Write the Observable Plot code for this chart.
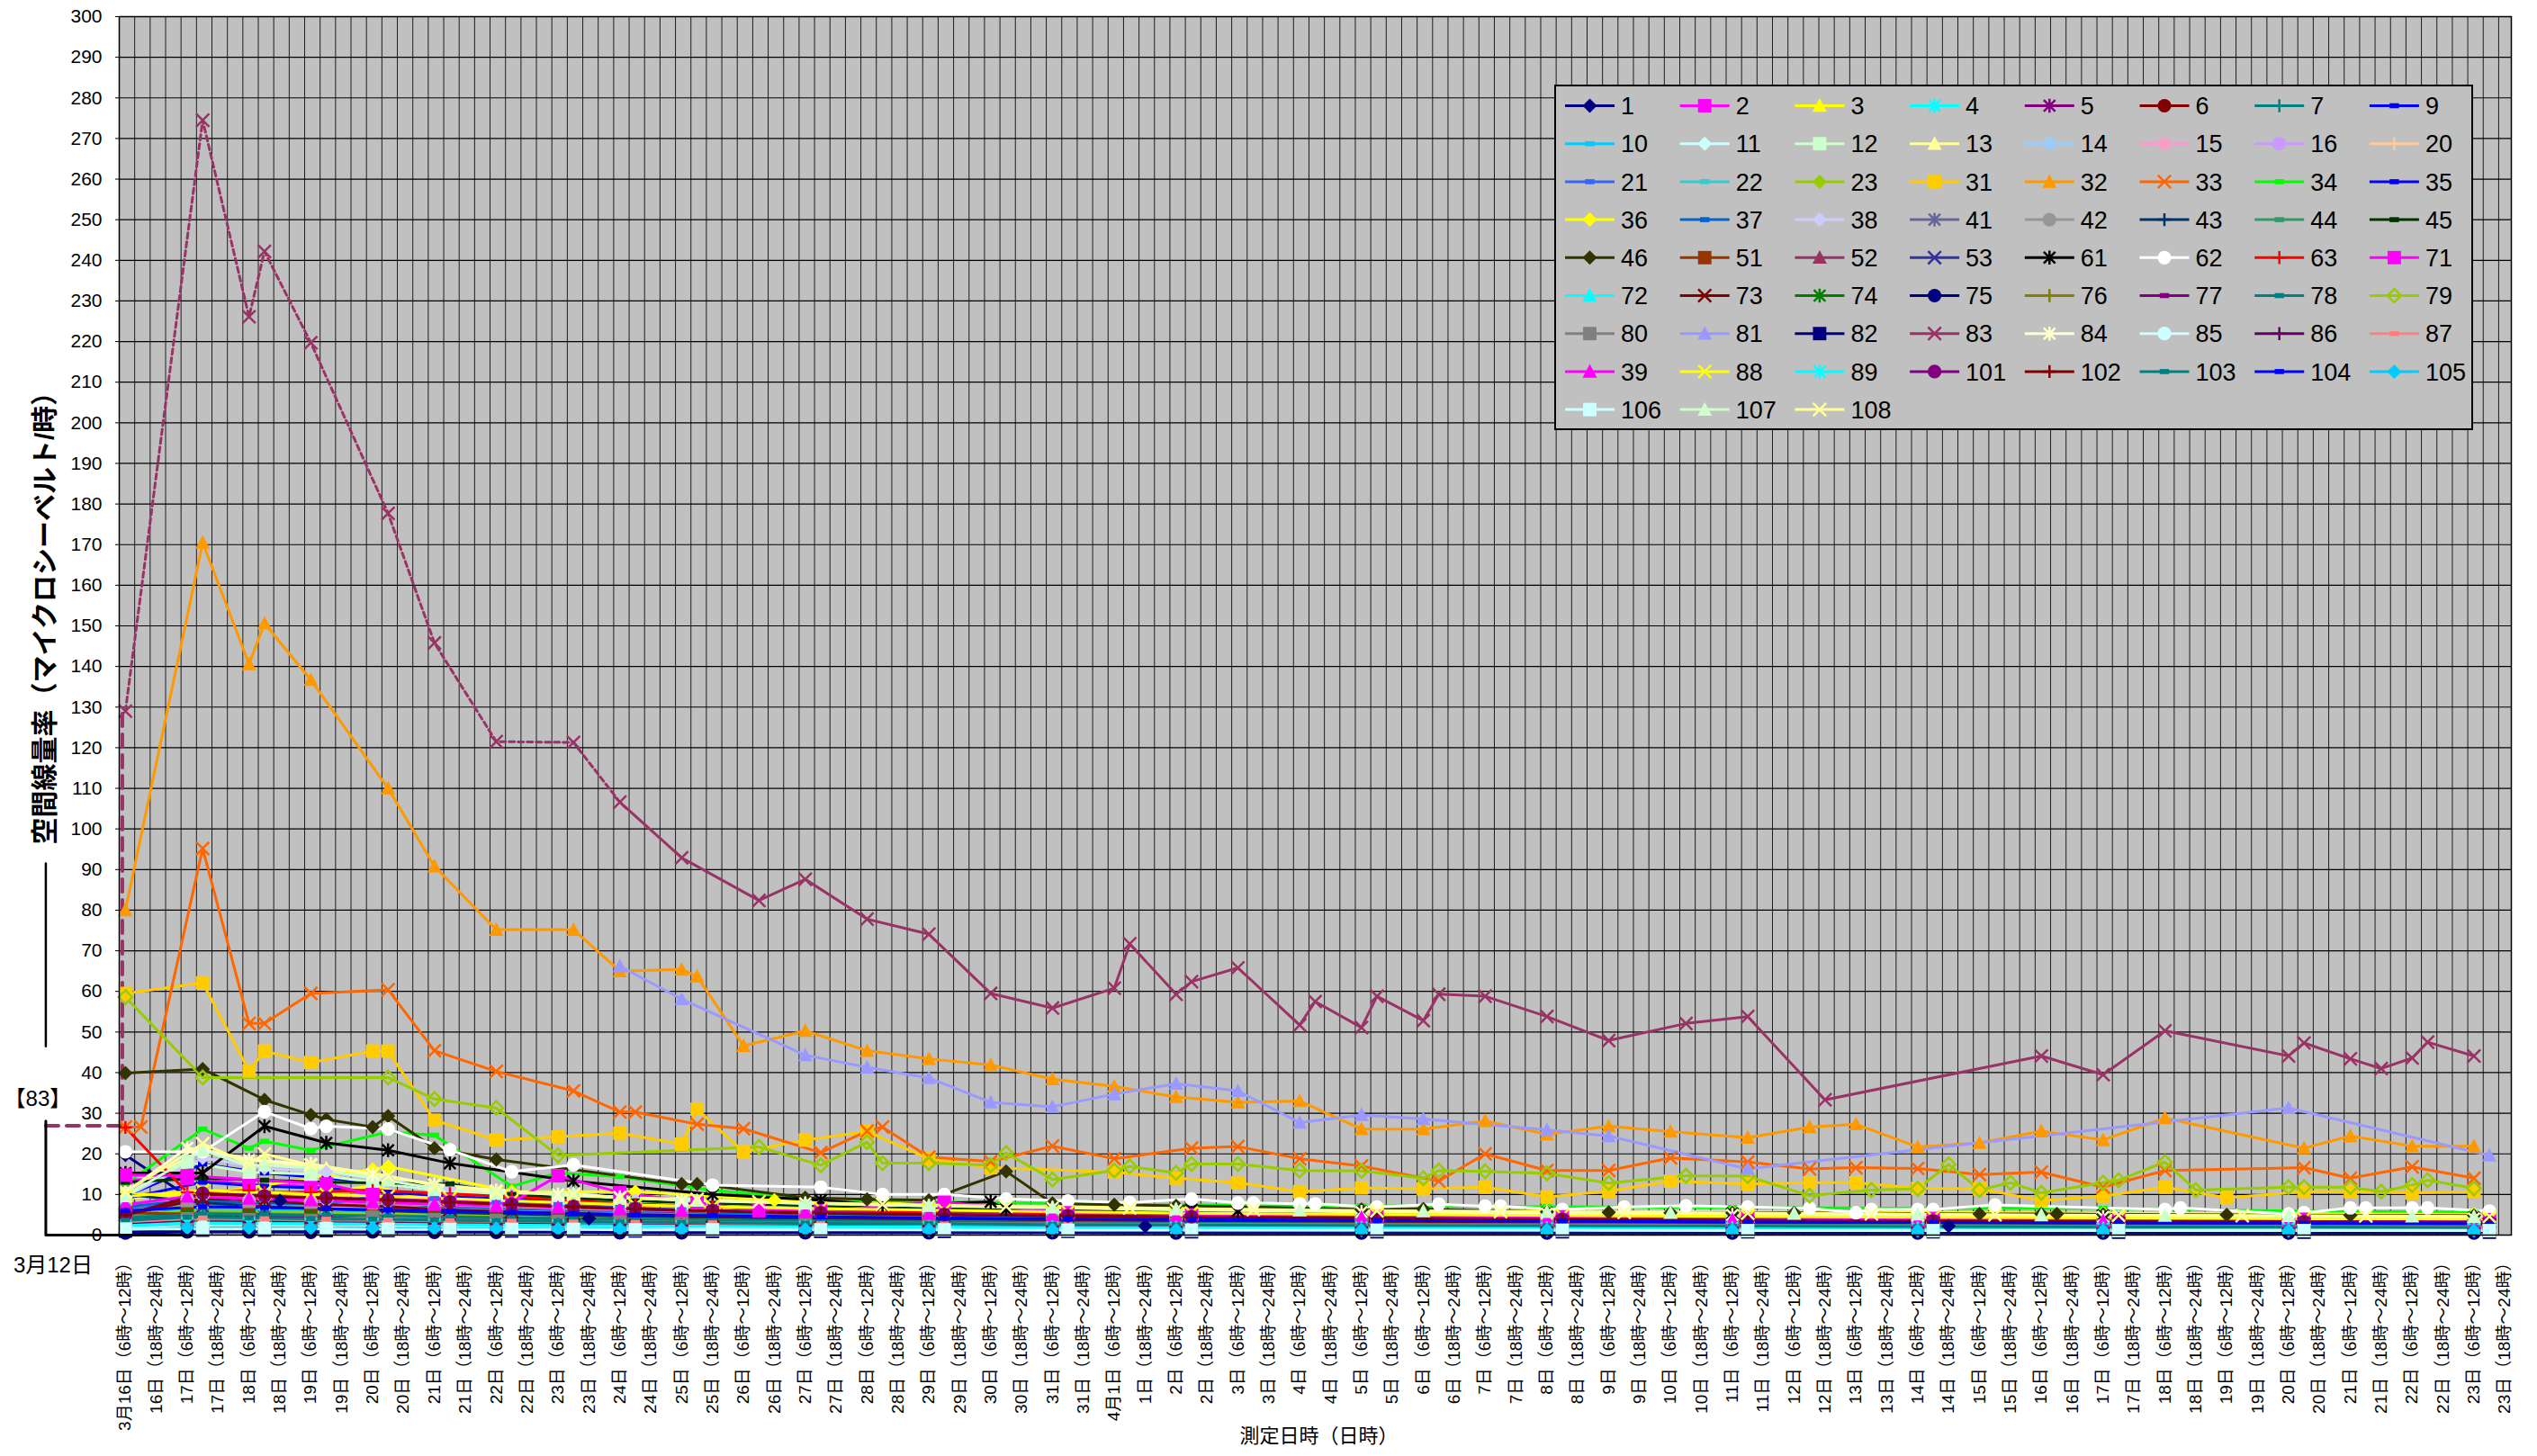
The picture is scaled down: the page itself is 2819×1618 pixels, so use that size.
<!DOCTYPE html>
<html><head><meta charset="utf-8">
<script src="https://cdn.jsdelivr.net/npm/d3@7"></script>
<script src="https://cdn.jsdelivr.net/npm/@observablehq/plot@0.6"></script>
<style>
html,body{margin:0;padding:0;background:#fff;}
#wrap{position:relative;width:2819px;height:1618px;font-family:"Liberation Sans","Noto Sans CJK JP",sans-serif;}
#legend{position:absolute;left:1727px;top:94px;}
</style></head>
<body><div id="wrap"><div id="chart"></div><svg id="legend"></svg></div>
<script>
// ---------- tick labels ----------
const slotAM = "（6時～12時）", slotPM = "（18時～24時）";
const amDays = ["3月16日","17日","18日","19日","20日","21日","22日","23日","24日","25日","26日","27日","28日","29日","30日","31日","4月1日","2日","3日","4日","5日","6日","7日","8日","9日","10日","11日","12日","13日","14日","15日","16日","17日","18日","19日","20日","21日","22日","23日"];
const pmDays = ["16日","17日","18日","19日","20日","21日","22日","23日","24日","25日","26日","27日","28日","29日","30日","31日","1日","2日","3日","4日","5日","6日","7日","8日","9日","10日","11日","12日","13日","14日","15日","16日","17日","18日","19日","20日","21日","22日","23日"];
const yTicks = [0,10,20,30,40,50,60,70,80,90,100,110,120,130,140,150,160,170,180,190,200,210,220,230,240,250,260,270,280,290,300];
const yTitle = "空間線量率（マイクロシーベルト/時）";
const xTitle = "測定日時（日時）";

// ---------- series (x = half-day slot index, 0 = 3月16日 6-12時) ----------
const tA = [0,2.5,4.5,6.5,8.5,10.5,12.5,14.5,16.5,19,22.5,26.5,30.5,34.5,40.5,46.5,52.5,58.5,64.5,70.5,76.5];
const tB = [0,2,4,6,8,10,12,14,16,18,22,26,30,34,40,46,52,58,64,70,76];

const t83 = [0,2.5,4,4.5,6,8.5,10,12,14.5,16,18,20.5,22,24,26,28,30,32,32.5,34,34.5,36,38,38.5,40,40.5,42,42.5,44,46,48,50.5,52.5,55,62,64,66,70,70.5,72,73,74,74.5,76];
const v83 = [129,274.5,226.1,242.2,219.7,177.7,145.8,121.5,121.3,106.6,92.9,82.4,87.6,77.8,74.1,59.5,55.9,60.8,71.7,59.3,62.4,65.8,51.7,57.5,51.1,58.8,52.8,59.3,58.8,53.8,47.9,52.1,53.8,33.3,44.1,39.5,50.3,44.1,47.3,43.4,41.0,43.6,47.5,44.1];
const v83_0312 = 26.9;   // 3月12日 value of station 83
const u0312 = -2.576;    // position of the 3月12日 reference

const t32 = [0,2.5,4,4.5,6,8.5,10,12,14.5,16,18,18.5,20,22,24,26,28,30,32,34,36,38,40,42,44,46,48,50,52.5,54.5,56,58,60,62,64,66,70.5,72,74,76];
const v32 = [80,170.5,140.6,150.6,136.7,110,90.8,75.2,75.2,65.0,65.4,63.7,46.6,50.3,45.4,43.4,41.9,38.4,36.6,34.0,32.7,33.0,26.1,26.1,28.1,24.8,26.8,25.5,24.0,26.6,27.3,21.7,22.7,25.6,23.4,28.8,21.4,24.4,21.9,21.9];
const t33 = [0,0.5,2.5,4,4.5,6,8.5,10,12,14.5,16,16.5,18.5,20,22.5,24,24.5,26,28,30,32,34.5,36,38,40,42.5,44,46,48,50,52.5,54.5,56,58,60,62,64,66,70.5,72,74,76];
const v33 = [26.6,26.6,95.2,52.1,52.1,59.5,60.4,45.4,40.3,35.5,30.3,30.3,27.3,26.2,20.3,25.6,26.6,19.2,18.1,21.9,18.8,21.4,21.8,18.8,17.0,13.3,20.0,15.9,15.9,19.0,18.0,16.3,16.6,16.4,14.9,15.5,11.8,15.9,16.6,14.0,16.8,14.0];
const t31 = [0,2.5,4,4.5,6,8,8.5,10,12,14,16,18,18.5,20,22,24,26,28,32,34,36,38,40,42,44,46,48,50,52.5,54.5,56,58,60,62,64,66,68,70.5,72,74,76];
const v31 = [59.5,62.1,40.4,45.3,42.5,45.3,45.3,28.3,23.4,24.2,25.1,22.4,31.0,20.5,23.4,25.5,18.8,16.6,15.5,14.0,12.9,10.7,11.6,11.4,11.8,9.4,10.8,13.3,12.6,12.9,12.9,11.5,11.4,8.5,9.6,11.8,9.2,10.7,10.7,10.4,10.7];
const t79 = [0,2.5,8.5,10,12,14,20.5,22.5,24,24.5,26,28,28.5,30,32,32.5,34,34.5,36,38,40,42,42.5,44,46,48,50.5,52.5,54.5,56.5,58,59,60,61,62,64,64.5,66,67,70,70.5,72,73,74,74.5,76];
const v79 = [58.6,38.8,38.8,33.5,31.3,19.6,21.7,17.2,22.9,17.7,17.7,17.2,20.2,13.7,15.9,16.9,15.3,17.5,17.5,15.9,15.8,14.0,15.9,15.7,15.2,12.8,14.6,14.5,9.7,11.1,11.4,17.4,11.1,12.9,10.4,12.9,13.5,18.0,11.1,11.8,11.8,11.8,10.7,12.3,13.5,11.5];
const t81 = [16,18,22,24,26,28,30,32,34,36,38,40,42,46,48,52.5,70,76.5];
const v81 = [66.2,58.1,44.3,41.3,38.7,32.7,31.6,34.7,37.3,35.5,27.7,29.6,28.6,25.9,24.4,16.3,31.3,19.6];
const t46 = [0,2.5,4.5,6,6.5,8,8.5,10,12,18,18.5,22,24,26,28.5,30,32,34,36,40,42,46,48,50,52,54,60,62,62.5,64,68,72,76];
const v46 = [39.9,40.9,33.3,29.6,28.5,26.6,29.3,21.4,18.6,12.6,12.6,9.2,8.8,8.6,15.7,7.8,7.5,7.2,7.0,6.3,6.4,5.7,5.6,5.5,5.5,5.5,5.2,5.2,5.2,5.1,5.0,4.9,4.8];
const t62 = [0,2.5,4.5,6,6.5,8.5,10.5,12.5,14.5,19,22.5,24.5,26.5,28.5,30.5,32.5,34.5,36,36.5,38,38.5,40.5,42.5,44,44.5,46.5,48.5,50.5,52.5,54.5,56,56.5,58,58.5,60.5,66,66.5,70,70.5,72,72.5,74,74.5,76.5];
const v62 = [20.5,20.5,30.4,26.2,26.8,26.1,21.0,15.6,17.3,12.3,11.8,10.0,10.0,8.9,8.4,8.0,8.9,7.9,7.9,7.7,7.7,6.9,7.6,7.1,7.1,6.3,6.9,7.2,6.9,6.6,5.5,6.3,6.3,6.3,7.4,6.3,6.7,5.2,5.5,6.7,6.7,6.7,6.7,5.9];
const t61 = [0,2.5,4.5,6.5,8.5,10.5,14.5,19,22.5,24.5,28,28.5,30.5,34.5,36,40,46,52,58,64,70,76];
const v61 = [15.3,15.3,26.8,22.7,20.9,17.7,13.3,10.0,8.6,7.4,8.2,6.4,6.4,6.3,6.0,5.8,5.5,5.3,5.0,4.8,4.5,4.3];
const t34 = [0,2.5,4,4.5,6,8.5,10,12.5,14,16,19,22,26,30,34,40,46,52,58,64,70,76];
const v34 = [12.6,26.1,21.4,23.1,20.9,25.4,24.6,12.0,15.3,14.4,11.0,9.0,8.2,7.8,7.4,7.2,7.0,6.8,6.6,6.6,5.9,5.6];
const t36 = [0,2.5,8,8.5,12.5,16.5,21,26,30,34,40,46,52,58,64,70,76];
const v36 = [10.0,10.0,16.2,16.9,10.7,10.7,8.6,7.5,7.0,6.6,6.2,5.9,5.7,5.6,5.4,5.3,5.1];
const v9 = [9.6,17.5,15.3,14.0,12.6,10.5,10.0,9.5,9.0,8.0,7.0,6.5,6.0,5.6,5.2,4.9,4.6,4.4,4.2,4.0,3.9];
const t107 = [0,2.5,4,4.5,6,8.5,10,12,14.5,16,18.5,22,26,30,34,38,42,46,50,54,58,62,66,70,74,76];
const v107 = [9.6,20.9,17.0,17.2,16.5,13.4,11.5,10.3,10.3,9.2,8.5,7.8,7.2,6.8,6.4,6.1,5.9,5.7,5.5,5.3,5.1,4.9,4.8,4.7,4.6,4.5];
const t108 = [0,2.5,4,4.5,6,8.5,10,12,14.5,16,18.5,20.5,24.5,28.5,32.5,36.5,40.5,44.5,48.5,52.5,56.5,60.5,64.5,68.5,72.5,76.5];
const v108 = [10.7,22.5,17.5,20.0,17.2,14.6,12.2,10.7,10.0,9.2,8.8,8.2,7.6,7.1,6.7,6.3,6.0,5.8,5.6,5.4,5.2,5.0,4.9,4.8,4.7,4.6];
const t71 = [0,2,6.5,8,10.5,12.5,14,16,18.5,20.5,22.5,26.5,30.5,34.5,40.5,46.5,52.5,58.5,64.5,70.5,76.5];
const v71 = [14.8,14.6,12.6,10.0,8.5,8.0,14.6,10.5,8.0,6.0,6.0,8.1,5.5,5.0,4.7,4.5,4.3,4.1,4.0,3.9,3.8];
const t63 = [0,2,4,4.5,6,6.5,8,10.5,12.5,14.5,16.5,19,22.5,26.5,30.5,34.5,40.5,46.5,52.5,58.5,64.5,70.5,76.5];
const v63 = [26.5,10.5,11.0,10.5,10.6,10.7,11.0,10.2,9.4,8.5,7.5,7.0,6.0,5.5,5.0,4.6,4.2,3.9,3.7,3.5,3.4,3.3,3.2];
const t1 = [0,2,5,10,15,22,26,30,33,40,46,52,59,64,70,76];
const v1 = [19.7,9.6,8.5,6.0,4.1,3.6,3.3,3.0,2.2,2.5,2.3,2.2,2.2,2.1,2.0,1.9];

const v2  = [13.5,14.0,12.5,12.0,10.0,8.5,7.5,7.0,6.5,6.0,5.5,5.0,4.6,4.2,3.8,3.5,3.3,3.1,2.9,2.8,2.6];
const v3  = [9.0,10.0,9.5,9.8,12.2,8.5,7.2,6.6,6.0,5.6,5.0,4.6,4.2,3.9,3.5,3.2,3.0,2.8,2.6,2.5,2.4];
const v4  = [3.0,4.5,4.2,4.0,3.8,3.5,3.3,3.0,2.9,2.7,2.5,2.3,2.2,2.1,2.0,1.9,1.8,1.7,1.7,1.6,1.6];
const v5  = [4.5,7.0,6.5,6.0,5.8,5.2,4.9,4.6,4.3,4.0,3.7,3.4,3.2,3.0,2.8,2.6,2.5,2.4,2.3,2.2,2.1];
const v6  = [5.5,8.0,7.8,7.4,7.0,6.4,6.0,5.6,5.2,4.9,4.5,4.2,3.9,3.7,3.4,3.2,3.0,2.9,2.7,2.6,2.5];
const v7  = [8.0,6.5,6.0,5.6,5.2,4.9,4.6,4.3,4.0,3.8,3.5,3.3,3.1,2.9,2.7,2.5,2.4,2.3,2.2,2.1,2.0];
const v10 = [6.0,6.5,6.2,5.9,5.5,5.1,4.8,4.5,4.2,3.9,3.6,3.4,3.2,3.0,2.8,2.6,2.5,2.4,2.3,2.2,2.1];
const v11 = [2.5,3.5,3.3,3.1,3.0,2.8,2.6,2.5,2.4,2.3,2.1,2.0,1.9,1.8,1.7,1.6,1.6,1.5,1.5,1.4,1.4];
const v12 = [10.0,18.0,15.5,15.0,13.0,11.0,9.8,9.0,8.4,7.8,7.0,6.5,6.0,5.6,5.2,4.8,4.5,4.3,4.1,3.9,3.7];
const v13 = [11.0,21.0,18.0,16.5,14.0,12.0,10.5,9.6,9.0,8.4,7.6,7.0,6.5,6.0,5.5,5.1,4.8,4.5,4.3,4.1,3.9];
const v14 = [6.5,8.0,7.5,7.0,6.6,6.0,5.6,5.2,4.9,4.6,4.2,3.9,3.6,3.4,3.2,3.0,2.8,2.7,2.6,2.5,2.4];
const v15 = [3.5,4.8,4.6,4.4,4.2,4.0,3.8,3.6,3.5,3.3,3.1,2.9,2.8,2.6,2.5,2.4,2.3,2.2,2.1,2.0,2.0];
const v16 = [7.0,9.0,8.5,8.0,7.5,7.0,6.5,6.1,5.8,5.4,5.0,4.7,4.4,4.1,3.8,3.6,3.4,3.2,3.1,3.0,2.9];
const v20 = [2.0,2.8,2.7,2.6,2.5,2.4,2.3,2.2,2.1,2.0,1.9,1.8,1.8,1.7,1.6,1.6,1.5,1.5,1.4,1.4,1.4];
const v21 = [6.5,7.5,7.2,7.0,9.5,9.0,8.0,7.5,6.8,6.2,5.5,5.0,4.6,4.3,4.0,3.7,3.5,3.3,3.2,3.1,3.0];
const v22 = [4.0,5.0,4.8,4.6,4.4,4.2,4.0,3.8,3.6,3.4,3.2,3.0,2.9,2.7,2.6,2.5,2.4,2.3,2.2,2.1,2.0];
const v23 = [5.0,6.0,5.8,5.5,5.3,5.0,4.7,4.4,4.2,4.0,3.7,3.5,3.3,3.1,2.9,2.8,2.6,2.5,2.4,2.3,2.2];
const v35 = [9.0,13.0,12.0,11.5,10.5,9.5,8.8,8.2,7.6,7.0,6.4,6.0,5.6,5.3,5.0,4.7,4.5,4.3,4.1,3.9,3.8];
const v37 = [7.0,8.5,8.0,7.6,7.2,6.8,6.4,6.0,5.6,5.3,5.0,4.7,4.4,4.1,3.9,3.7,3.5,3.3,3.2,3.0,2.9];
const v38 = [9.5,19.0,16.5,15.5,13.5,11.5,10.0,9.2,8.6,8.0,7.3,6.8,6.3,5.8,5.4,5.0,4.7,4.4,4.2,4.0,3.8];
const v41 = [2.5,3.2,3.1,3.0,2.9,2.8,2.7,2.6,2.5,2.4,2.3,2.2,2.1,2.0,1.9,1.8,1.8,1.7,1.7,1.6,1.6];
const v42 = [6.0,7.5,7.2,7.0,7.8,6.5,6.0,5.6,5.3,5.0,4.6,4.3,4.0,3.8,3.6,3.4,3.2,3.1,3.0,2.9,2.8];
const v43 = [10.0,8.0,7.0,6.5,6.0,5.5,5.2,4.9,4.6,4.3,4.0,3.7,3.5,3.3,3.1,2.9,2.8,2.7,2.6,2.5,2.4];
const v44 = [4.5,5.5,5.3,5.0,4.8,4.6,4.4,4.2,4.0,3.8,3.5,3.3,3.1,2.9,2.7,2.6,2.5,2.4,2.3,2.2,2.1];
const v45 = [13.0,14.0,13.5,13.0,12.8,12.6,10.0,9.0,8.4,7.8,7.2,6.6,6.2,5.8,5.4,5.0,4.8,4.6,4.4,4.2,4.0];
const v51 = [5.5,5.2,5.0,4.8,4.6,4.4,4.2,4.0,3.8,3.6,3.4,3.2,3.0,2.9,2.8,2.7,2.6,2.5,2.4,2.3,2.2];
const v52 = [2.2,2.2,2.1,1.9,1.9,1.8,1.8,1.7,1.7,1.6,1.6,1.5,1.5,1.4,1.4,1.3,1.3,1.3,1.2,1.2,1.2];
const v53 = [3.0,3.8,3.6,3.4,3.3,3.1,3.0,2.8,2.7,2.6,2.4,2.3,2.2,2.1,2.0,1.9,1.8,1.8,1.7,1.7,1.6];
const v72 = [1.8,2.5,2.4,2.3,2.2,2.1,2.0,1.9,1.9,1.8,1.7,1.6,1.6,1.5,1.5,1.4,1.4,1.3,1.3,1.3,1.2];
const v73 = [5.0,9.0,8.5,7.5,7.0,6.2,5.7,5.3,5.0,4.7,4.4,4.1,3.8,3.6,3.4,3.2,3.0,2.9,2.8,2.7,2.6];
const v74 = [4.0,5.0,4.8,4.6,4.4,4.2,4.0,3.8,3.6,3.4,3.2,3.0,2.8,2.7,2.6,2.5,2.4,2.3,2.2,2.1,2.0];
const v75 = [0.5,0.8,0.8,0.7,0.8,0.7,0.7,0.7,0.6,0.6,0.6,0.6,0.6,0.5,0.5,0.5,0.5,0.5,0.5,0.5,0.5];
const v76 = [2.8,3.5,3.3,3.2,3.0,2.9,2.8,2.6,2.5,2.4,2.3,2.2,2.1,2.0,1.9,1.8,1.8,1.7,1.7,1.6,1.6];
const v77 = [3.8,4.6,4.4,4.2,4.0,3.8,3.6,3.5,3.3,3.2,3.0,2.8,2.7,2.6,2.4,2.3,2.2,2.1,2.0,2.0,1.9];
const v78 = [4.2,5.2,5.0,4.8,4.6,4.4,4.2,4.0,3.8,3.6,3.4,3.2,3.0,2.9,2.7,2.6,2.5,2.4,2.3,2.2,2.1];
const v80 = [3.2,4.0,3.8,3.6,4.4,3.8,3.6,3.4,3.3,3.2,3.0,2.9,2.8,2.7,2.6,2.5,2.4,2.3,2.2,2.2,2.1];
const v82 = [1.0,1.2,1.2,1.1,1.1,1.1,1.0,1.0,1.0,0.9,0.9,0.9,0.9,0.8,0.8,0.8,0.8,0.8,0.7,0.7,0.7];
const v84 = [10.5,21.5,18.5,17.5,15.0,12.5,11.0,10.0,9.3,8.6,7.8,7.2,6.7,6.2,5.7,5.3,5.0,4.7,4.5,4.3,4.1];
const v85 = [1.6,2.2,2.1,2.0,2.0,1.9,1.8,1.8,1.7,1.7,1.6,1.5,1.5,1.4,1.4,1.3,1.3,1.3,1.2,1.2,1.2];
const v86 = [2.6,3.3,3.2,3.0,2.9,2.8,2.7,2.6,2.5,2.4,2.3,2.2,2.1,2.0,1.9,1.9,1.8,1.8,1.7,1.7,1.6];
const v87 = [3.3,4.2,4.0,3.9,3.7,3.5,3.4,3.2,3.1,3.0,2.8,2.7,2.6,2.5,2.4,2.3,2.2,2.1,2.0,2.0,1.9];
const v39 = [7.5,9.5,9.0,8.6,8.1,7.6,7.2,6.8,6.4,6.0,5.6,5.2,4.9,4.6,4.3,4.0,3.8,3.6,3.5,3.4,3.3];
const v88 = [9.5,11.0,10.5,10.0,9.5,9.0,8.4,7.9,7.4,7.0,6.5,6.1,5.7,5.4,5.1,4.8,4.6,4.4,4.2,4.0,3.9];
const v89 = [2.3,3.0,2.9,2.8,2.7,2.6,2.5,2.4,2.3,2.2,2.1,2.0,1.9,1.8,1.8,1.7,1.7,1.6,1.6,1.6,1.5];
const v101 = [5.0,10.3,9.6,9.2,8.7,8.2,7.6,7.0,6.5,6.0,5.5,5.1,4.8,4.5,4.2,3.9,3.7,3.5,3.4,3.3,3.2];
const v102 = [5.0,10.1,9.5,9.1,8.6,8.1,7.5,6.9,6.4,5.9,5.4,5.0,4.7,4.4,4.1,3.8,3.6,3.4,3.3,3.2,3.1];
const v103 = [3.6,4.4,4.2,4.0,3.9,3.7,3.5,3.4,3.2,3.1,2.9,2.8,2.6,2.5,2.4,2.3,2.2,2.1,2.0,2.0,1.9];
const v104 = [6.0,7.0,6.8,6.5,6.2,5.9,5.6,5.3,5.0,4.8,4.5,4.2,4.0,3.8,3.6,3.4,3.2,3.1,3.0,2.9,2.8];
const v105 = [1.4,1.8,1.8,1.7,1.7,1.6,1.6,1.5,1.5,1.4,1.4,1.3,1.3,1.3,1.2,1.2,1.2,1.1,1.1,1.1,1.1];
const v106 = [1.5,1.5,1.5,1.5,1.4,1.4,1.4,1.4,1.3,1.3,1.3,1.3,1.2,1.2,1.2,1.2,1.1,1.1,1.1,1.1,1.1];

// legend order = drawing order
const seriesIds = ["1","2","3","4","5","6","7","9","10","11","12","13","14","15","16","20","21","22","23","31","32","33","34","35","36","37","38","41","42","43","44","45","46","51","52","53","61","62","63","71","72","73","74","75","76","77","78","79","80","81","82","83","84","85","86","87","39","88","89","101","102","103","104","105","106","107","108"];
const seriesColors = ["#000080","#FF00FF","#FFFF00","#00FFFF","#800080","#800000","#008080","#0000FF","#00CCFF","#CCFFFF","#CCFFCC","#FFFF99","#99CCFF","#FF99CC","#CC99FF","#FFCC99","#3366FF","#33CCCC","#99CC00","#FFCC00","#FF9900","#FF6600","#00FF00","#0000FF","#FFFF00","#0066CC","#CCCCFF","#666699","#969696","#003366","#339966","#003300","#333300","#993300","#993366","#333399","#000000","#FFFFFF","#FF0000","#FF00FF","#00FFFF","#800000","#008000","#000080","#808000","#800080","#008080","#99CC00","#808080","#9999FF","#000080","#993366","#FFFFCC","#CCFFFF","#660066","#FF8080","#FF00FF","#FFFF00","#00FFFF","#800080","#800000","#008080","#0000FF","#00CCFF","#CCFFFF","#CCFFCC","#FFFF99"];
const seriesMarkers = ["m_dia","m_sq","m_tri","m_ast","m_ast","m_cir","m_plus","m_dash","m_dash","m_dia","m_sq","m_tri","m_ast","m_ast","m_cir","m_plus","m_dash","m_dash","m_dia","m_sq","m_tri","m_x","m_dash","m_dash","m_dia","m_dash","m_dia","m_ast","m_cir","m_plus","m_dash","m_dash","m_dia","m_sq","m_tri","m_x","m_ast","m_cir","m_plus","m_sq","m_tri","m_x","m_ast","m_cir","m_plus","m_dash","m_dash","m_odia","m_sq","m_tri","m_sq","m_x","m_ast","m_cir","m_plus","m_dash","m_tri","m_x","m_ast","m_cir","m_plus","m_dash","m_dash","m_dia","m_sq","m_tri","m_x"];
const seriesT = {"1":t1,"2":tB,"3":tB,"4":tA,"5":tA,"6":tB,"7":tA,"9":tA,"10":tB,"11":tA,"12":tB,"13":tA,"14":tA,"15":tB,"16":tB,"20":tA,"21":tB,"22":tA,"23":tB,"31":t31,"32":t32,"33":t33,"34":t34,"35":tA,"36":t36,"37":tB,"38":tA,"41":tB,"42":tB,"43":tA,"44":tB,"45":tA,"46":t46,"51":tB,"52":tA,"53":tB,"61":t61,"62":t62,"63":t63,"71":t71,"72":tA,"73":tA,"74":tB,"75":tB,"76":tA,"77":tB,"78":tA,"79":t79,"80":tB,"81":t81,"82":tA,"83":t83,"84":tB,"85":tA,"86":tB,"87":tA,"39":tB,"88":tA,"89":tB,"101":tA,"102":tA,"103":tB,"104":tA,"105":tB,"106":tA,"107":t107,"108":t108};
const seriesV = {"1":v1,"2":v2,"3":v3,"4":v4,"5":v5,"6":v6,"7":v7,"9":v9,"10":v10,"11":v11,"12":v12,"13":v13,"14":v14,"15":v15,"16":v16,"20":v20,"21":v21,"22":v22,"23":v23,"31":v31,"32":v32,"33":v33,"34":v34,"35":v35,"36":v36,"37":v37,"38":v38,"41":v41,"42":v42,"43":v43,"44":v44,"45":v45,"46":v46,"51":v51,"52":v52,"53":v53,"61":v61,"62":v62,"63":v63,"71":v71,"72":v72,"73":v73,"74":v74,"75":v75,"76":v76,"77":v77,"78":v78,"79":v79,"80":v80,"81":v81,"82":v82,"83":v83,"84":v84,"85":v85,"86":v86,"87":v87,"39":v39,"88":v88,"89":v89,"101":v101,"102":v102,"103":v103,"104":v104,"105":v105,"106":v106,"107":v107,"108":v108};

// ---------- marker shapes (Excel style) ----------
const R = s => Math.sqrt(s / Math.PI);
const shapes = {
  m_cir: {draw(c, s){const r = R(s)*0.95; c.moveTo(r,0); c.arc(0,0,r,0,2*Math.PI);}},
  m_sq: {draw(c, s){const r = R(s)*0.93; c.rect(-r,-r,2*r,2*r);}},
  m_dia: {draw(c, s){const r = R(s)*1.0; c.moveTo(0,-r); c.lineTo(r,0); c.lineTo(0,r); c.lineTo(-r,0); c.closePath();}},
  m_odia: {draw(c, s){const r = R(s)*0.95; c.moveTo(0,-r); c.lineTo(r,0); c.lineTo(0,r); c.lineTo(-r,0); c.closePath();}},
  m_tri: {draw(c, s){const r = R(s); c.moveTo(0,-1.05*r); c.lineTo(r,0.85*r); c.lineTo(-r,0.85*r); c.closePath();}},
  m_x: {draw(c, s){const r = R(s)*0.9; c.moveTo(-r,-r); c.lineTo(r,r); c.moveTo(r,-r); c.lineTo(-r,r);}},
  m_ast: {draw(c, s){const r = R(s)*0.8; c.moveTo(-r,-r); c.lineTo(r,r); c.moveTo(r,-r); c.lineTo(-r,r); c.moveTo(0,-1.2*r); c.lineTo(0,1.2*r);}},
  m_plus: {draw(c, s){const r = R(s)*0.9; c.moveTo(0,-r); c.lineTo(0,r); c.moveTo(-r,0); c.lineTo(r,0);}},
  m_dash: {draw(c, s){const r = R(s); c.rect(-0.65*r,-0.35*r,1.3*r,0.7*r);}}
};
const symNames = Object.keys(shapes);
const strokeOnly = new Set(["m_x","m_ast","m_plus","m_odia"]);

// ---------- rows ----------
const rows = seriesIds.flatMap((id, i) => seriesT[id].map((t, j) => ({
  id, t, v: seriesV[id][j], color: seriesColors[i], mk: seriesMarkers[i],
  fill: strokeOnly.has(seriesMarkers[i]) ? "none" : seriesColors[i],
  stroke: strokeOnly.has(seriesMarkers[i]) ? seriesColors[i] : "none"
})));
const rows83 = rows.filter(d => d.id === "83");
const dotted83 = rows83.filter(d => d.t <= 16);
const solid83 = rows83.filter(d => d.t >= 16);
const pre83 = [{t: u0312, v: v83_0312}, {t: -0.1, v: v83_0312}, {t: -0.1, v: v83[0]}];
const breakUpper = [{t: u0312, v: 91.5}, {t: u0312, v: 46.5}];
const breakLower = [{t: u0312, v: 28.1}, {t: u0312, v: 0}, {t: 2.14, v: 0}];
const gridX = d3.range(-0.2, 77.21, 0.5);

const chart = Plot.plot({
  width: 2819, height: 1618,
  marginLeft: 132, marginRight: 29, marginTop: 18, marginBottom: 246,
  x: {domain: [-0.2, 77.21]},
  y: {domain: [0, 300]},
  color: {type: "identity"},
  symbol: {domain: symNames, range: symNames.map(n => shapes[n])},
  style: {background: "#fff", fontFamily: '"Liberation Sans","Noto Sans CJK JP",sans-serif', fontSize: "20px", color: "#000", overflow: "visible"},
  marks: [
    Plot.frame({fill: "#C0C0C0", stroke: null}),
    Plot.ruleX(gridX, {stroke: "#000", strokeWidth: 1, strokeOpacity: 0.85}),
    Plot.ruleY(yTicks, {stroke: "#000", strokeWidth: 1.2}),
    Plot.line(rows.filter(d => d.id !== "83"), {x: "t", y: "v", z: "id", stroke: "color", strokeWidth: 3}),
    Plot.line(dotted83, {x: "t", y: "v", stroke: "#993366", strokeWidth: 3, strokeDasharray: "6,4"}),
    Plot.line(solid83, {x: "t", y: "v", stroke: "#993366", strokeWidth: 3}),
    Plot.line(pre83, {x: "t", y: "v", stroke: "#993366", strokeWidth: 4, strokeDasharray: "14,9"}),
    Plot.dot(rows, {x: "t", y: "v", symbol: "mk", fill: "fill", stroke: "stroke", r: 8, strokeWidth: 2.5}),
    Plot.frame({stroke: "#000", strokeWidth: 1.5}),
    Plot.line(breakUpper, {x: "t", y: "v", stroke: "#000", strokeWidth: 2.5}),
    Plot.line(breakLower, {x: "t", y: "v", stroke: "#000", strokeWidth: 3}),
    Plot.axisY(yTicks, {anchor: "left", tickSize: 4, tickPadding: 15, fontSize: 21, label: null}),
    Plot.axisX(d3.range(0, 78), {anchor: "bottom", tickSize: 0, tickPadding: 21, tickRotate: -90,
      tickFormat: i => (i % 2 === 0 ? amDays[i/2] + slotAM : pmDays[(i-1)/2] + slotPM), fontSize: 19, label: null}),
    Plot.text([yTitle], {frameAnchor: "left", textAnchor: "middle", dx: -82, dy: -16, rotate: -90, fontSize: 30, fontWeight: "bold"}),
    Plot.text([xTitle], {frameAnchor: "bottom", dx: 4, dy: 230, fontSize: 22}),
    Plot.text([{t: u0312, v: 0}], {x: "t", y: "v", text: () => "3月12日", dx: 8, dy: 34, fontSize: 24}),
    Plot.text([{t: u0312, v: v83_0312}], {x: "t", y: "v", text: () => "【83】", dx: -9, dy: -30, fontSize: 24})
  ]
});
document.getElementById("chart").appendChild(chart);

// ---------- legend ----------
const leg = d3.select("#legend").attr("width", 1021).attr("height", 384)
  .style("font-family", '"Liberation Sans","Noto Sans CJK JP",sans-serif');
leg.append("rect").attr("x", 1).attr("y", 1).attr("width", 1019).attr("height", 382)
  .attr("fill", "#C0C0C0").attr("stroke", "#000").attr("stroke-width", 2);
seriesIds.forEach((id, i) => {
  const col = i % 8, row = Math.floor(i / 8);
  const g = leg.append("g").attr("transform", `translate(${12 + col * 127.7},${23.5 + row * 42.2})`);
  const c = seriesColors[i], m = seriesMarkers[i], so = strokeOnly.has(m);
  g.append("line").attr("x1", 0).attr("x2", 55).attr("stroke", c).attr("stroke-width", 3);
  g.append("path").attr("transform", "translate(27.5,0)")
    .attr("d", d3.symbol(shapes[m], Math.PI * 64)())
    .attr("fill", so ? "none" : c).attr("stroke", so ? c : "none").attr("stroke-width", 2.5);
  g.append("text").attr("x", 62).attr("dy", "0.36em").attr("font-size", 27).attr("fill", "#000").text(id);
});
</script>
</body></html>
